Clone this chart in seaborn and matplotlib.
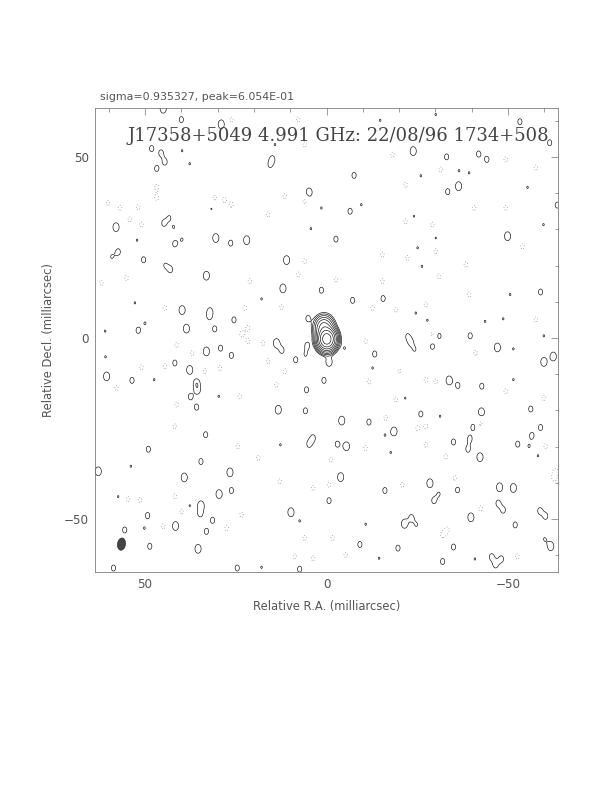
"""Clean-map contour plot of J17358+5049 at 4.991 GHz (difmap / PGPLOT look).

The map is rebuilt from Gaussian components read off the picture:
core + jet, the restoring beam, and the positive / negative noise peaks.
"""
import numpy as np
import matplotlib
matplotlib.use('Agg')
import matplotlib.pyplot as plt
from matplotlib.patches import Ellipse
from matplotlib.ticker import MultipleLocator
import seaborn as sns

# --- header texts -------------------------------------------------------
sigma_text = 'sigma=0.935327, peak=6.054E-01'
map_title = 'J17358+5049 4.991 GHz: 22/08/96 1734+508'
xlabel = 'Relative R.A. (milliarcsec)'
ylabel = 'Relative Decl. (milliarcsec)'

# --- source components (mas, amplitude in units of lowest contour) -------
core_ra = [-0.1, 0.7]
core_dec = [-0.3, 2.9]
core_amp = [420.0, 45.0]
core_sra = [1.15, 1.25]
core_sdec = [1.4, 1.5]

# restoring beam (mas)
beam_ra, beam_dec = 56.5, -56.9
beam_w, beam_h, beam_pa = 2.2, 3.4, 8.0

# noise peak size classes -> amplitude (t=tiny, s=small, m=medium)
size_amp = {'t': 1.04, 's': 1.3, 'm': 1.75}
noise_sra, noise_sdec = 0.8, 1.15

# positive noise peaks (solid contours): (ra, dec, size) per quadrant
pos_ne = [(45, 63.3, 'm'), (40, 60.3, 's'), (29, 59, 'm'), (48.2, 52.3, 's'), (45.6, 51.1, 's'),
          (44.5, 48.6, 's'), (46.8, 46.8, 's'), (37.7, 48.1, 't'), (14.9, 49.4, 's'),
          (4.8, 40.2, 'm'), (58, 30.6, 'm'), (44.8, 31.7, 's'), (41.8, 26, 's'), (30.5, 27.6, 'm'),
          (26.4, 26.2, 's'), (22, 27, 'm'), (11, 21.5, 'm'), (43, 18.9, 's'), (33.1, 17.2, 'm'),
          (12, 13.7, 'm'), (1.4, 13.2, 's'), (57.4, 23.8, 's'), (50.4, 21.6, 's'), (39.8, 7.7, 'm'),
          (32.1, 7.4, 's'), (38.6, 2.6, 'm'), (51.9, 2.1, 's'), (30.8, 2.5, 's'), (25.5, 5, 's'),
          (5.1, 5.4, 's'), (59.2, 22.4, 't'), (39.8, 27.2, 't'), (42.1, 30.6, 't'), (52.2, 27, 't'),
          (31.7, 35.7, 't'), (43.3, 33.3, 't'), (39.8, 51.7, 't'), (15.6, 47.7, 't'), (4.3, 30.2, 't'),
          (44.5, 20.1, 't'), (17.9, 10.8, 't'), (32.3, 5.8, 't'), (50, 4.1, 't'), (61, 1.9, 't'),
          (52.8, 9.7, 't'), (1.4, 35.9, 't'), (14.2, 53.4, 't')]
pos_nw = [(-53.3, 59.7, 's'), (-61.5, 53.9, 's'), (-23.9, 51.6, 'm'), (-41.9, 50.8, 's'),
          (-44.2, 49.3, 's'), (-33.1, 50, 's'), (-7.6, 44.9, 's'), (-36.4, 41.9, 'm'),
          (-33.4, 40.4, 's'), (-39.3, 45.6, 't'), (-36.5, 46.2, 't'), (-55.4, 41.6, 't'),
          (-6.5, 35, 's'), (-9.6, 36.8, 't'), (-24.1, 33.6, 't'), (-59.8, 31.3, 't'),
          (-49.9, 28.1, 'm'), (-2.6, 27.3, 's'), (-30.1, 27.6, 't'), (-25.1, 24.9, 't'),
          (-26.3, 19.8, 't'), (-15.6, 10.9, 's'), (-7.2, 10.4, 's'), (-50.6, 12, 't'),
          (-59, 12.7, 's'), (-24.6, 6.9, 't'), (-27.8, 4.9, 't'), (-43.7, 4.6, 't'),
          (-48.7, 5.3, 't'), (-31, 0.6, 's'), (-39.6, 0.6, 's'), (-63.6, 36.7, 's'),
          (-14.8, 60.1, 't'), (-26, 44.8, 't'), (-30.1, 61.7, 't'), (-22.3, 0.6, 't'),
          (-59.9, 0.6, 't')]
pos_se = [(13.8, -1.4, 'm'), (12.3, -3.4, 's'), (33.1, -3.7, 'm'), (29.2, -2.8, 's'),
          (26.2, -4.8, 's'), (8.5, -6, 's'), (5.3, -2, 's'), (5.8, -4.6, 't'), (37.7, -8.8, 'm'),
          (41.8, -6.9, 's'), (60.6, -10.6, 'm'), (53.6, -11.7, 's'), (35.8, -12.5, 'm'),
          (35.5, -14.5, 's'), (37.5, -16.2, 's'), (35.8, -19.1, 's'), (5.5, -14.3, 's'),
          (13.3, -19.8, 'm'), (5.8, -20.1, 's'), (0.7, -11.7, 's'), (33.3, -26.7, 's'),
          (49.1, -30.7, 's'), (34.6, -34.1, 's'), (3.7, -27.6, 's'), (4.8, -29.3, 's'),
          (62.9, -36.8, 'm'), (39.2, -38.5, 'm'), (26.6, -37.1, 'm'), (29.6, -43.1, 'm'),
          (26.2, -42.1, 's'), (34.6, -46.2, 'm'), (34.8, -48.5, 's'), (31.4, -50.3, 's'),
          (41.6, -51.9, 'm'), (33.1, -53.4, 's'), (9.8, -48.1, 'm'), (55.6, -53, 's'),
          (49.3, -49, 's'), (48.7, -57.5, 's'), (35.4, -58.2, 'm'), (58.7, -63.5, 's'),
          (24.6, -63.5, 's'), (7.4, -63.8, 's'), (37.7, -46.3, 't'), (53.9, -35.4, 't'),
          (57.4, -43.8, 't'), (50.2, -52.5, 't'), (2.6, -17.3, 't'), (29.7, -16.1, 't'),
          (47.5, -11.5, 't'), (7.4, -50.5, 't'), (12.7, -29.5, 't'), (17.9, -63.3, 't'),
          (60.9, -5.2, 't')]
pos_sw = [(-0.7, -6.6, 'm'), (-23.2, -1.1, 's'), (-24.3, -3.2, 't'), (-29.2, -2.3, 's'),
          (-47.1, -2.6, 'm'), (-62.5, -5.1, 'm'), (-59.9, -6.6, 'm'), (-13.3, -4.4, 's'),
          (-12.7, -8.3, 't'), (-33.8, -11.7, 'm'), (-36.2, -13.1, 's'), (-42.8, -13.3, 's'),
          (-4.2, -22.8, 'm'), (-11.7, -23.2, 's'), (-18.6, -25.8, 'm'), (-16.1, -26.8, 't'),
          (-26, -21, 's'), (-42.7, -20.5, 'm'), (-40.4, -24.6, 's'), (-56.3, -19.6, 's'),
          (-59, -24.7, 's'), (-56.6, -26.9, 's'), (-3, -29.3, 's'), (-5.5, -29.9, 'm'),
          (-35, -28.7, 's'), (-39.5, -27.8, 's'), (-39, -30.7, 's'), (-42.3, -32.9, 'm'),
          (-52.7, -29.3, 's'), (-58.3, -32.5, 't'), (-3.9, -38.4, 'm'), (-28.5, -40.1, 'm'),
          (-16.1, -42.1, 's'), (-36.1, -41.9, 's'), (-47.7, -41.2, 'm'), (-51.5, -41.4, 'm'),
          (-0.7, -44.9, 's'), (-29.6, -44.9, 's'), (-47.3, -45.6, 's'), (-48.7, -47.5, 's'),
          (-58.8, -47.7, 's'), (-60.4, -49.2, 's'), (-39.8, -49.5, 'm'), (-21.5, -51.3, 'm'),
          (-23.4, -49.6, 's'), (-52, -51.6, 's'), (-9.2, -57, 's'), (-19.7, -58, 's'),
          (-35, -57.7, 's'), (-61.8, -57.5, 'm'), (-14.5, -60.8, 't'), (-32, -61.7, 's'),
          (-45.5, -60.4, 's'), (-48.2, -61, 's'), (-46.6, -62.6, 's'), (-40.9, -61, 't'),
          (-60.1, -55.5, 't'), (-5, -2.8, 't'), (-51.5, -3, 't'), (-51.5, -11.5, 't'),
          (-31.3, -21.6, 't'), (-55.8, -29.9, 't'), (-17.7, -31.6, 't'), (-31, -43, 't'),
          (-24.8, -51.6, 't'), (-10.8, -51.4, 't'), (-18.5, -10.6, 't'), (-21.7, -16.6, 't')]

# negative noise peaks (dotted contours): (ra, dec)
neg_ne = [(46.8, 41.7), (46.8, 38.7), (60.2, 37.3), (56.9, 35.9), (51.9, 36.1), (54.2, 32.7),
          (51, 31.3), (30.8, 38.7), (28.2, 38.2), (26.2, 36.8), (11.5, 39.1), (6, 37.8),
          (62, 15.2), (55.1, 16.6), (21.1, 15.7), (7.8, 17.5), (6, 21.2), (44.5, 8.3),
          (22.5, 8.3), (21.6, 2.8), (23.4, 1.1), (26.2, 60.3), (7.8, 60.3), (6, 53.4),
          (16.1, 34.1), (12.4, 8.5)]
neg_nw = [(-49.4, 49.3), (-57.7, 47), (-31.5, 46.5), (-21.8, 42.3), (-40.7, 35.9), (-49.4, 35.9),
          (-21.8, 32.2), (-29.2, 31.3), (-30.1, 24), (-22.3, 22.1), (-15.4, 23), (-38.4, 20.3),
          (-15.4, 15.7), (-31, 17), (-2.6, 16.1), (-39.3, 12), (-27.4, 9.2), (-12.7, 8.3),
          (-19.1, 7.8), (-57.7, 5.1), (-54, 25.3), (-18.2, 50.6), (-29.2, 0.9)]
neg_se = [(57.9, -13.8), (51, -8.1), (44.5, -7.8), (41.3, -18.4), (33.5, -9.2), (29.4, -8.3),
          (23.9, -16.1), (13.8, -12.9), (3.2, -17.5), (41.3, -1.9), (37, -4.2), (21.6, -0.9),
          (17.5, -1.4), (16.1, -6.4), (11.5, -9.2), (41.8, -24.4), (24.4, -29.9), (54.7, -44.5),
          (51.4, -44.7), (27.5, -52.5), (45, -52), (6, -55.2), (8.7, -60.3), (3.7, -60.8),
          (3.7, -41.4), (12.9, -39.6), (18.8, -33.1), (41.8, -43.7), (39.9, -47.9), (23.4, -48.8)]
neg_sw = [(-10.8, -0.9), (-11.7, -12), (-19.1, -17), (-20, -9.2), (-27.4, -11.5), (-30.1, -12),
          (-27.4, -24.4), (-27.4, -29.5), (-32.9, -32.7), (-35.4, -38.7), (-42.5, -23.5),
          (-42.5, -47), (-33.3, -53), (-32, -54.3), (-49.4, -14.7), (-59.9, -16.6),
          (-60.4, -29.9), (-1.2, -33.6), (-0.7, -40.5), (-63.2, -36.8), (-62.7, -38.7),
          (-20.9, -40.5), (-10.8, -30.4), (-1.7, -55.2), (-5.3, -59.9), (-52.6, -60.3),
          (-25.1, -24.9), (-16.3, -22.1), (-41.1, -4.1)]
neg_amp = -1.2

# contour levels (multiples of the lowest level)
levels_pos = [1, 2, 4, 8, 16, 32, 64, 128, 256]
levels_neg = [-1]


def gauss_map(ra, dec, comps):
    img = np.zeros((dec.size, ra.size))
    for x0, y0, a, sx, sy in comps:
        gx = np.exp(-0.5 * ((ra - x0) / sx) ** 2)
        gy = np.exp(-0.5 * ((dec - y0) / sy) ** 2)
        img += a * np.outer(gy, gx)
    return img


def build_map():
    ra = np.linspace(64, -65, 900)
    dec = np.linspace(-65, 64, 900)
    comps = list(zip(core_ra, core_dec, core_amp, core_sra, core_sdec))
    for x0, y0, s in pos_ne + pos_nw + pos_se + pos_sw:
        comps.append((x0, y0, size_amp[s], noise_sra, noise_sdec))
    for x0, y0 in neg_ne + neg_nw + neg_se + neg_sw:
        comps.append((x0, y0, neg_amp, noise_sra, noise_sdec))
    return ra, dec, gauss_map(ra, dec, comps)


def main():
    sns.set_style('white')
    plt.rcParams['font.family'] = ['DejaVu Sans']

    fig = plt.figure(figsize=(8.5, 11), dpi=72)
    ax = fig.add_axes([95 / 612, 1 - 572 / 792, 463 / 612, 464 / 792])

    ra, dec, img = build_map()
    ax.contour(ra, dec, img, levels=levels_pos, colors='#111111', linewidths=0.65)
    ax.contour(ra, dec, img, levels=levels_neg, colors='#8a8a8a', linewidths=0.8,
               linestyles=[(0, (1, 2.5))])

    ax.add_patch(Ellipse((beam_ra, beam_dec), beam_w, beam_h, angle=beam_pa,
                         facecolor='#444444', edgecolor='#222222', lw=0.6))

    ax.set_xlim(63.8, -63.8)
    ax.set_ylim(-64.6, 63.5)
    ax.xaxis.set_major_locator(MultipleLocator(50))
    ax.yaxis.set_major_locator(MultipleLocator(50))
    ax.xaxis.set_minor_locator(MultipleLocator(10))
    ax.yaxis.set_minor_locator(MultipleLocator(10))
    ax.tick_params(which='both', direction='in', top=True, right=True, color='#777777',
                   labelcolor='#555555', labelsize=12, width=0.7)
    ax.tick_params(which='major', length=7, pad=6)
    ax.tick_params(which='minor', length=3.5)
    for s in ax.spines.values():
        s.set_color('#777777')
        s.set_linewidth(0.8)

    ax.set_xlabel(xlabel, color='#555555', fontsize=11.5, labelpad=9)
    ax.set_ylabel(ylabel, color='#555555', fontsize=11.5, labelpad=9)

    ax.text(0.525, 0.94, map_title, transform=ax.transAxes, ha='center', va='center',
            fontsize=18, family='DejaVu Serif', color='#444444')
    fig.text(100 / 612, 1 - 97 / 792, sigma_text, ha='left', va='center',
             fontsize=11, color='#555555')

    fig.savefig('out.png', dpi=72)
    plt.close(fig)


if __name__ == '__main__':
    main()
